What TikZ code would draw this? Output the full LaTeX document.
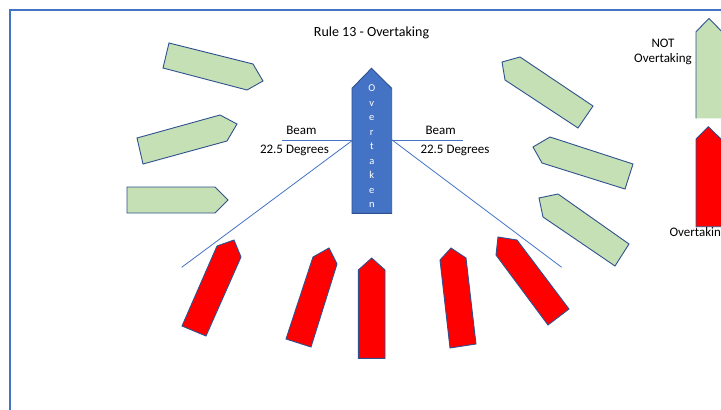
\documentclass[tikz,border=0pt]{standalone}
\usepackage{fontspec}
\setmainfont{Carlito}
\definecolor{officeblue}{HTML}{4472C4}
\definecolor{edgeblue}{HTML}{2F528F}
\definecolor{lightgreen}{HTML}{C5E0B4}
\definecolor{boatred}{HTML}{FF0000}
\tikzset{
  greenboat/.style={fill=lightgreen, draw=edgeblue, line width=0.9pt, line join=miter},
  redboat/.style={fill=boatred, draw=edgeblue, line width=0.9pt},
  blueboat/.style={fill=officeblue, draw=edgeblue, line width=0.9pt},
  beamline/.style={draw=officeblue, line width=0.8pt},
  lbl/.style={font=\fontsize{13}{15}\selectfont, inner sep=0pt, text=black},
  letter/.style={font=\fontsize{10.5}{12}\selectfont, text=white, inner sep=0pt, anchor=base}
}
\begin{document}
\begin{tikzpicture}[x=1pt,y=-1pt]
\useasboundingbox (0,0) rectangle (721,410);
\clip (0,0) rectangle (721,410);
\fill[white] (0,0) rectangle (721,410);
% frame
\draw[officeblue, line width=2pt] (10,420) -- (10,10) -- (730,10);
% title
\node[lbl, font=\fontsize{14}{16}\selectfont] (title) at (371.5,32.5) {Rule 13 - Overtaking};
% green boats left
\draw[greenboat] (169,43) -- (253,64) -- (263,81) -- (247,90) -- (163,68) -- cycle;
\draw[greenboat] (137,138) -- (220,115) -- (237,124) -- (227,141) -- (143,164) -- cycle;
\draw[greenboat] (127,187) -- (215,187) -- (228,200) -- (215,213) -- (127,213) -- cycle;
% green boats right
\draw[greenboat] (502,62) -- (520,57) -- (593,106) -- (578,128) -- (505,80) -- cycle;
\draw[greenboat] (533,147) -- (550,137) -- (633,164) -- (625,189) -- (542,163) -- cycle;
\draw[greenboat] (539,198) -- (558,194) -- (629,244) -- (615,266) -- (543,217) -- cycle;
% red boats
\draw[redboat] (217,246) -- (234,240) -- (241,257) -- (206,336) -- (182,326) -- cycle;
\draw[redboat] (313,257) -- (329,248) -- (337,264) -- (311,347) -- (286,339) -- cycle;
\draw[redboat] (358.3,270) -- (371.7,258) -- (385,270) -- (385,358.3) -- (358.3,358.3) -- cycle;
\draw[redboat] (440,260) -- (451,248) -- (466,258) -- (476,344) -- (450,348) -- cycle;
\draw[redboat] (498,237) -- (517,240) -- (569,309) -- (548,325) -- (496,255) -- cycle;
% overtaken boat
\draw[blueboat] (352,213.3) -- (352,88.3) -- (371.5,68.3) -- (391.7,88.3) -- (391.7,213.3) -- cycle;
\foreach \l [count=\i from 0] in {O,v,e,r,t,a,k,e,n}
  \node[letter] (L\i) at (371.8,91.8+14.5*\i) {\l};
% beam and 22.5 degree lines
\coordinate (bl) at (352,140.7);
\coordinate (br) at (391.7,140.7);
\coordinate (blend) at (282.3,140.7);
\coordinate (brend) at (462.7,140.7);
\coordinate (dl) at (181.7,267.3);
\coordinate (dr) at (561.7,267.3);
\draw[beamline] (blend) -- (bl);
\draw[beamline] (br) -- (brend);
\draw[beamline] (bl) -- (dl);
\draw[beamline] ([yshift=1pt]br) -- (dr);
\node[lbl] (beamL) at (301.5,130) {Beam};
\node[lbl] (degL) at (294.5,150.5) {22.5 Degrees};
\node[lbl] (beamR) at (440.7,130) {Beam};
\node[lbl] (degR) at (455,150.5) {22.5 Degrees};
% legend
\draw[greenboat] (696,118.3) -- (696,31.7) -- (709,18.5) -- (722,31.7) -- (722,118.3);
\node[lbl, align=center, font=\fontsize{13}{15.3}\selectfont] (notov) at (663,51.6) {NOT\\Overtaking};
\draw[redboat] (696,226.7) -- (696,139) -- (708.3,126.7) -- (721,139) -- (722,139) -- (722,226.7) -- cycle;
\node[lbl, anchor=west] (ov) at (669.3,233.3) {Overtaking};
\end{tikzpicture}
\end{document}
